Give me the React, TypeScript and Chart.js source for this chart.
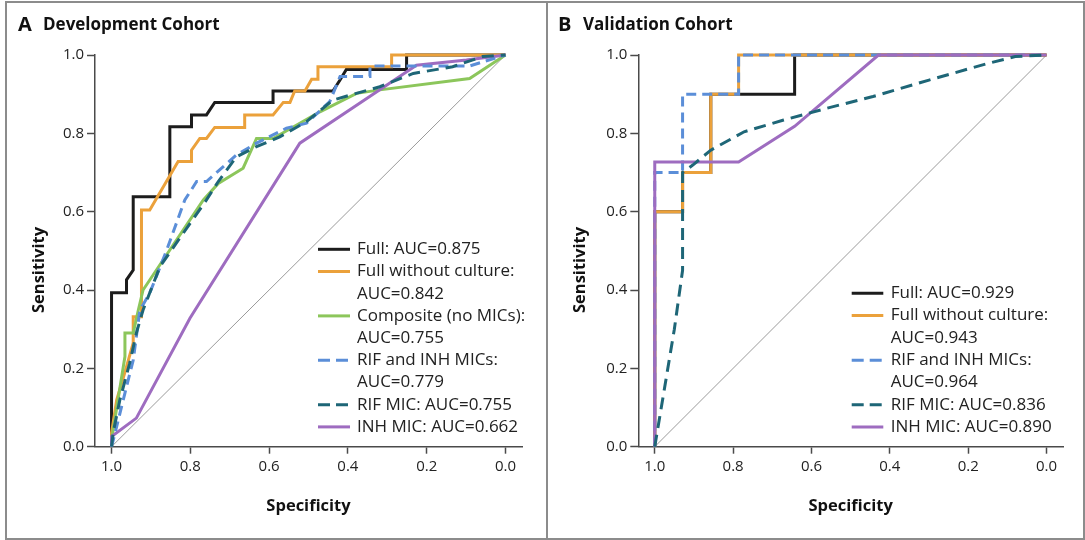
import React, { useEffect, useRef } from "react";
import { Chart, registerables } from "chart.js";

Chart.register(...registerables);

// ---------- shared axis ticks ----------
const tickValues = [0, 0.2, 0.4, 0.6, 0.8, 1.0];

// ---------- Panel A: Development Cohort ----------
const devFullSpec = [1, 1, 0.962, 0.962, 0.945, 0.945, 0.852, 0.852, 0.797, 0.797, 0.759, 0.738, 0.59, 0.59, 0.438, 0.42, 0.404, 0.251, 0.251, 0];
const devFullSens = [0, 0.393, 0.393, 0.426, 0.451, 0.638, 0.638, 0.817, 0.817, 0.847, 0.847, 0.879, 0.879, 0.908, 0.908, 0.936, 0.963, 0.963, 1, 1];

const devNoCultSpec = [1, 1, 0.987, 0.962, 0.945, 0.945, 0.924, 0.924, 0.903, 0.831, 0.797, 0.797, 0.776, 0.759, 0.738, 0.662, 0.662, 0.59, 0.564, 0.547, 0.535, 0.509, 0.492, 0.476, 0.476, 0.289, 0.289, 0];
const devNoCultSens = [0, 0.035, 0.119, 0.204, 0.265, 0.332, 0.332, 0.604, 0.604, 0.728, 0.728, 0.757, 0.787, 0.787, 0.815, 0.815, 0.847, 0.847, 0.879, 0.879, 0.908, 0.908, 0.938, 0.938, 0.97, 0.97, 1, 1];

const devCompSpec = [1, 1, 0.966, 0.966, 0.945, 0.932, 0.92, 0.767, 0.729, 0.666, 0.632, 0.59, 0.471, 0.378, 0.319, 0.091, 0];
const devCompSens = [0, 0.017, 0.23, 0.29, 0.29, 0.349, 0.4, 0.63, 0.672, 0.711, 0.787, 0.787, 0.855, 0.902, 0.911, 0.94, 1];

const devRifInhSpec = [1, 0.987, 0.966, 0.945, 0.928, 0.903, 0.86, 0.814, 0.784, 0.759, 0.683, 0.632, 0.556, 0.505, 0.446, 0.42, 0.344, 0.344, 0.091, 0];
const devRifInhSens = [0, 0.051, 0.137, 0.221, 0.349, 0.392, 0.502, 0.63, 0.677, 0.677, 0.745, 0.775, 0.813, 0.826, 0.881, 0.945, 0.945, 0.972, 0.972, 1];

const devRifSpec = [1, 0.996, 0.979, 0.954, 0.937, 0.92, 0.877, 0.759, 0.729, 0.683, 0.632, 0.573, 0.505, 0.438, 0.319, 0.234, 0.134, 0.058, 0];
const devRifSens = [0, 0.035, 0.119, 0.213, 0.29, 0.349, 0.46, 0.63, 0.677, 0.74, 0.766, 0.791, 0.83, 0.885, 0.919, 0.953, 0.97, 0.996, 1];

const devInhSpec = [1, 1, 0.937, 0.801, 0.522, 0.319, 0.226, 0.099, 0];
const devInhSens = [0, 0.026, 0.073, 0.328, 0.775, 0.911, 0.974, 0.987, 1];

const devLabels = [
  ["Full: AUC=0.875"],
  ["Full without culture:", "AUC=0.842"],
  ["Composite (no MICs):", "AUC=0.755"],
  ["RIF and INH MICs:", "AUC=0.779"],
  ["RIF MIC: AUC=0.755"],
  ["INH MIC: AUC=0.662"],
];

// ---------- Panel B: Validation Cohort ----------
const valFullSpec = [1, 1, 0.929, 0.929, 0.857, 0.857, 0.643, 0.643, 0];
const valFullSens = [0, 0.6, 0.6, 0.7, 0.7, 0.9, 0.9, 1, 1];

const valNoCultSpec = [1, 1, 0.929, 0.929, 0.857, 0.857, 0.786, 0.786, 0];
const valNoCultSens = [0, 0.6, 0.6, 0.7, 0.7, 0.9, 0.9, 1, 1];

const valRifInhSpec = [1, 1, 0.929, 0.929, 0.786, 0.786, 0];
const valRifInhSens = [0, 0.7, 0.7, 0.9, 0.9, 1, 1];

const valRifSpec = [1, 0.95, 0.929, 0.929, 0.903, 0.857, 0.772, 0.671, 0.561, 0.443, 0.3, 0.148, 0.08, 0];
const valRifSens = [0, 0.3, 0.45, 0.7, 0.719, 0.757, 0.804, 0.834, 0.864, 0.894, 0.936, 0.979, 0.996, 1];

const valInhSpec = [1, 1, 0.786, 0.643, 0.429, 0];
const valInhSens = [0, 0.727, 0.727, 0.818, 1, 1];

const valLabels = [
  ["Full: AUC=0.929"],
  ["Full without culture:", "AUC=0.943"],
  ["RIF and INH MICs:", "AUC=0.964"],
  ["RIF MIC: AUC=0.836"],
  ["INH MIC: AUC=0.890"],
];

// ---------- styles ----------
const C_BLACK = "#1c1c1c";
const C_ORANGE = "#EBA13B";
const C_GREEN = "#8CC65B";
const C_BLUE = "#5B8ED8";
const C_TEAL = "#1E6677";
const C_PURPLE = "#9E6CC0";
const C_DIAG = "#9a9a9a";
const C_AXIS = "#4a4a4a";
const C_TEXT = "#222";
const FONT = '"Open Sans", "DejaVu Sans", sans-serif';

const DASH_BLUE = [10, 6];
const DASH_TEAL = [12, 7];

type Series = { spec: number[]; sens: number[]; color: string; dash: number[]; order: number };

function pts(spec: number[], sens: number[]) {
  return spec.map((s, i) => ({ x: s, y: sens[i] }));
}

type PanelCfg = {
  letter: string;
  title: string;
  series: Series[];
  labels: string[][];
  width: number;
  yAxisWidth: number;
  padRight: number;
  legendX0: number;
  legendX1: number;
  legendTextX: number;
  legendY0: number;
  legendPitch: number;
  letterX: number;
  titleX: number;
  sensX: number;
};

const devSeries: Series[] = [
  { spec: devFullSpec, sens: devFullSens, color: C_BLACK, dash: [], order: 6 },
  { spec: devNoCultSpec, sens: devNoCultSens, color: C_ORANGE, dash: [], order: 5 },
  { spec: devCompSpec, sens: devCompSens, color: C_GREEN, dash: [], order: 4 },
  { spec: devRifInhSpec, sens: devRifInhSens, color: C_BLUE, dash: DASH_BLUE, order: 2 },
  { spec: devRifSpec, sens: devRifSens, color: C_TEAL, dash: DASH_TEAL, order: 1 },
  { spec: devInhSpec, sens: devInhSens, color: C_PURPLE, dash: [], order: 3 },
];

const valSeries: Series[] = [
  { spec: valFullSpec, sens: valFullSens, color: C_BLACK, dash: [], order: 6 },
  { spec: valNoCultSpec, sens: valNoCultSens, color: C_ORANGE, dash: [], order: 5 },
  { spec: valRifInhSpec, sens: valRifInhSens, color: C_BLUE, dash: DASH_BLUE, order: 4 },
  { spec: valRifSpec, sens: valRifSens, color: C_TEAL, dash: DASH_TEAL, order: 1 },
  { spec: valInhSpec, sens: valInhSens, color: C_PURPLE, dash: [], order: 3 },
];

const panelA: PanelCfg = {
  letter: "A",
  title: "Development Cohort",
  series: devSeries,
  labels: devLabels,
  width: 547,
  yAxisWidth: 95,
  padRight: 25,
  legendX0: 318,
  legendX1: 350,
  legendTextX: 357,
  legendY0: 249.3,
  legendPitch: 22.2,
  letterX: 18,
  titleX: 43,
  sensX: 39,
};

const panelB: PanelCfg = {
  letter: "B",
  title: "Validation Cohort",
  series: valSeries,
  labels: valLabels,
  width: 538,
  yAxisWidth: 91.3,
  padRight: 22,
  legendX0: 304.7,
  legendX1: 336.3,
  legendTextX: 343.7,
  legendY0: 293.3,
  legendPitch: 22.3,
  letterX: 11,
  titleX: 36,
  sensX: 33,
};

function Panel({ cfg, left }: { cfg: PanelCfg; left: number }) {
  const ref = useRef<HTMLCanvasElement | null>(null);
  useEffect(() => {
    if (!ref.current) return;
    const datasets: any[] = [
      {
        data: [{ x: 1, y: 0 }, { x: 0, y: 1 }],
        borderColor: C_DIAG,
        borderWidth: 1,
        pointRadius: 0,
        showLine: true,
        order: 10,
        clip: false,
      },
      ...cfg.series.map((s) => ({
        data: pts(s.spec, s.sens),
        borderColor: s.color,
        borderWidth: 3,
        borderDash: s.dash,
        pointRadius: 0,
        showLine: true,
        tension: 0,
        order: s.order,
        clip: false,
        borderJoinStyle: "miter",
      })),
    ];

    const decor = {
      id: "decor",
      afterDraw(chart: any) {
        const ctx = chart.ctx as CanvasRenderingContext2D;
        ctx.save();
        // panel title
        ctx.fillStyle = "#111";
        ctx.textBaseline = "middle";
        ctx.textAlign = "left";
        ctx.font = `bold 20px ${FONT}`;
        ctx.fillText(cfg.letter, cfg.letterX, 25);
        ctx.font = `bold 17px ${FONT}`;
        ctx.fillText(cfg.title, cfg.titleX, 25);
        // axis titles
        const ca = chart.chartArea;
        ctx.font = `bold 16.5px ${FONT}`;
        ctx.textAlign = "center";
        ctx.fillText("Specificity", (ca.left + ca.right) / 2, 506);
        ctx.save();
        ctx.translate(cfg.sensX, 270);
        ctx.rotate(-Math.PI / 2);
        ctx.fillText("Sensitivity", 0, 0);
        ctx.restore();
        // legend
        let row = 0;
        ctx.font = `17px ${FONT}`;
        ctx.textAlign = "left";
        cfg.labels.forEach((lines, i) => {
          const s = cfg.series[i];
          const y = cfg.legendY0 + row * cfg.legendPitch;
          ctx.beginPath();
          ctx.strokeStyle = s.color;
          ctx.lineWidth = 3;
          ctx.setLineDash(s.dash.length ? [12, 6] : []);
          ctx.moveTo(cfg.legendX0, y);
          ctx.lineTo(cfg.legendX1, y);
          ctx.stroke();
          ctx.setLineDash([]);
          ctx.fillStyle = C_TEXT;
          lines.forEach((t, j) => {
            ctx.fillText(t, cfg.legendTextX, cfg.legendY0 + (row + j) * cfg.legendPitch);
          });
          row += lines.length;
        });
        ctx.restore();
      },
    };

    const tickFont = { family: FONT, size: 15 };
    const chart = new Chart(ref.current, {
      type: "scatter",
      data: { datasets },
      plugins: [decor],
      options: {
        animation: false,
        responsive: false,
        maintainAspectRatio: false,
        layout: { padding: { left: 0, top: 55, right: cfg.padRight, bottom: 53.3 } },
        plugins: { legend: { display: false }, tooltip: { enabled: false } },
        scales: {
          x: {
            type: "linear",
            reverse: true,
            min: -0.042,
            max: 1.042,
            afterBuildTicks: (s: any) => {
              s.ticks = tickValues.map((v) => ({ value: v }));
            },
            afterFit: (s: any) => {
              s.height = 40;
            },
            ticks: {
              autoSkip: false,
              maxRotation: 0,
              padding: 4,
              color: C_TEXT,
              font: tickFont,
              callback: (v: any) => Number(v).toFixed(1),
            },
            grid: {
              display: true,
              drawOnChartArea: false,
              drawTicks: true,
              tickLength: 7,
              tickColor: C_AXIS,
              tickWidth: 1.5,
            },
            border: { display: true, color: C_AXIS, width: 1.5 },
          },
          y: {
            type: "linear",
            min: 0,
            max: 1,
            afterBuildTicks: (s: any) => {
              s.ticks = tickValues.map((v) => ({ value: v }));
            },
            afterFit: (s: any) => {
              s.width = cfg.yAxisWidth;
            },
            ticks: {
              autoSkip: false,
              padding: 3,
              color: C_TEXT,
              font: tickFont,
              callback: (v: any) => Number(v).toFixed(1),
            },
            grid: {
              display: true,
              drawOnChartArea: false,
              drawTicks: true,
              tickLength: 8,
              tickColor: C_AXIS,
              tickWidth: 1.5,
            },
            border: { display: true, color: C_AXIS, width: 1.5 },
          },
        },
      } as any,
    });
    return () => chart.destroy();
  }, [cfg]);

  return (
    <canvas
      ref={ref}
      width={cfg.width}
      height={540}
      style={{ position: "absolute", left, top: 0, width: cfg.width, height: 540, display: "block" }}
    />
  );
}

export default function App() {
  const frame = "#8c8c8c";
  return (
    <div style={{ position: "fixed", left: 0, top: 0, width: 1085, height: 540, background: "#fff", overflow: "hidden" }}>
      <Panel cfg={panelA} left={0} />
      <Panel cfg={panelB} left={547} />
      <div style={{ position: "absolute", left: 5, top: 1, width: 1076, height: 535, border: `2px solid ${frame}`, pointerEvents: "none" }} />
      <div style={{ position: "absolute", left: 546, top: 1, width: 2, height: 537, background: frame }} />
    </div>
  );
}
